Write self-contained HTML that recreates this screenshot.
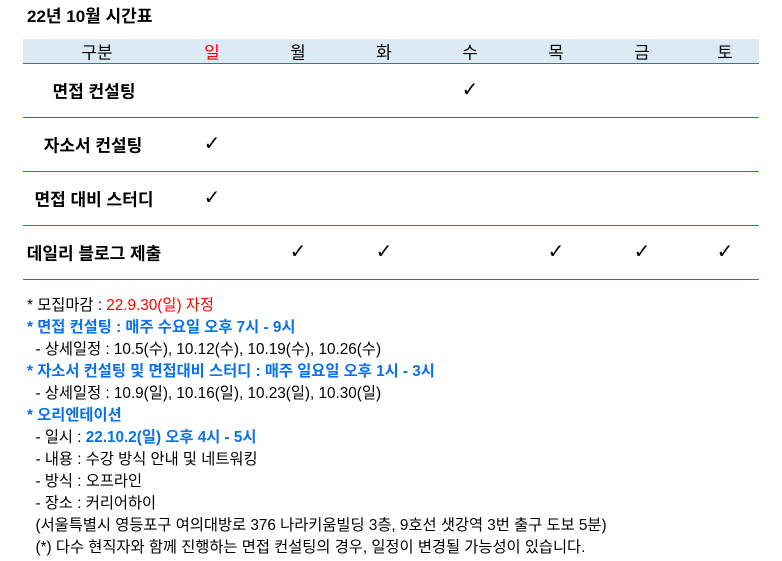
<!DOCTYPE html>
<html><head><meta charset="utf-8"><style>
body{margin:0;background:#fff;font-family:"Liberation Sans","Noto Sans CJK KR",sans-serif;color:#000;width:782px;height:561px;position:relative;overflow:hidden}
.t{position:absolute;left:27px;top:2px;font-size:17px;font-weight:bold}
.hdr{position:absolute;left:23px;top:39px;width:736px;height:24px;background:#dde9f5;border-bottom:1px solid #2a72c9}
.line{position:absolute;left:23px;width:736px;height:1px;background:#2a72c9}
.c{position:absolute;transform:translate(-50%,-50%);white-space:nowrap;font-size:17px}
.b{font-weight:bold}
.k{font-size:20px;font-weight:bold;font-family:"DejaVu Sans",sans-serif}
.n{position:absolute;left:27px;font-size:15.3px;white-space:nowrap;line-height:22px}
.bl{color:#0a72e6;font-weight:bold}
.r{color:#f00}
</style></head><body>
<div class="t">22년 10월 시간표</div>
<div class="hdr"></div>
<div class="c" style="left:97px;top:51px">구분</div>
<div class="c r" style="left:212px;top:51px">일</div>
<div class="c" style="left:298px;top:51px">월</div>
<div class="c" style="left:384px;top:51px">화</div>
<div class="c" style="left:470px;top:51px">수</div>
<div class="c" style="left:556px;top:51px">목</div>
<div class="c" style="left:642px;top:51px">금</div>
<div class="c" style="left:725px;top:51px">토</div>
<div class="line" style="top:117px"></div>
<div class="line" style="top:171px"></div>
<div class="line" style="top:225px"></div>
<div class="line" style="top:279px"></div>
<div class="c b" style="left:94px;top:90px">면접 컨설팅</div>
<div class="c b" style="left:93px;top:144px">자소서 컨설팅</div>
<div class="c b" style="left:94px;top:198px">면접 대비 스터디</div>
<div class="c b" style="left:94px;top:252px">데일리 블로그 제출</div>
<div class="c k" style="left:470px;top:89px">✓</div>
<div class="c k" style="left:212px;top:143px">✓</div>
<div class="c k" style="left:212px;top:197px">✓</div>
<div class="c k" style="left:298px;top:251px">✓</div>
<div class="c k" style="left:384px;top:251px">✓</div>
<div class="c k" style="left:556px;top:251px">✓</div>
<div class="c k" style="left:642px;top:251px">✓</div>
<div class="c k" style="left:725px;top:251px">✓</div>
<div class="n" style="top:295px">* 모집마감 : <span class="r">22.9.30(일) 자정</span></div>
<div class="n bl" style="top:317px">* 면접 컨설팅 : 매주 수요일 오후 7시 - 9시</div>
<div class="n" style="top:339px">&nbsp;&nbsp;- 상세일정 : 10.5(수), 10.12(수), 10.19(수), 10.26(수)</div>
<div class="n bl" style="top:361px">* 자소서 컨설팅 및 면접대비 스터디 : 매주 일요일 오후 1시 - 3시</div>
<div class="n" style="top:383px">&nbsp;&nbsp;- 상세일정 : 10.9(일), 10.16(일), 10.23(일), 10.30(일)</div>
<div class="n bl" style="top:405px">* 오리엔테이션</div>
<div class="n" style="top:427px">&nbsp;&nbsp;- 일시 : <span class="bl">22.10.2(일) 오후 4시 - 5시</span></div>
<div class="n" style="top:449px">&nbsp;&nbsp;- 내용 : 수강 방식 안내 및 네트워킹</div>
<div class="n" style="top:471px">&nbsp;&nbsp;- 방식 : 오프라인</div>
<div class="n" style="top:493px">&nbsp;&nbsp;- 장소 : 커리어하이</div>
<div class="n" style="top:515px">&nbsp;&nbsp;(서울특별시 영등포구 여의대방로 376 나라키움빌딩 3층, 9호선 샛강역 3번 출구 도보 5분)</div>
<div class="n" style="top:537px">&nbsp;&nbsp;(*) 다수 현직자와 함께 진행하는 면접 컨설팅의 경우, 일정이 변경될 가능성이 있습니다.</div>
</body></html>
